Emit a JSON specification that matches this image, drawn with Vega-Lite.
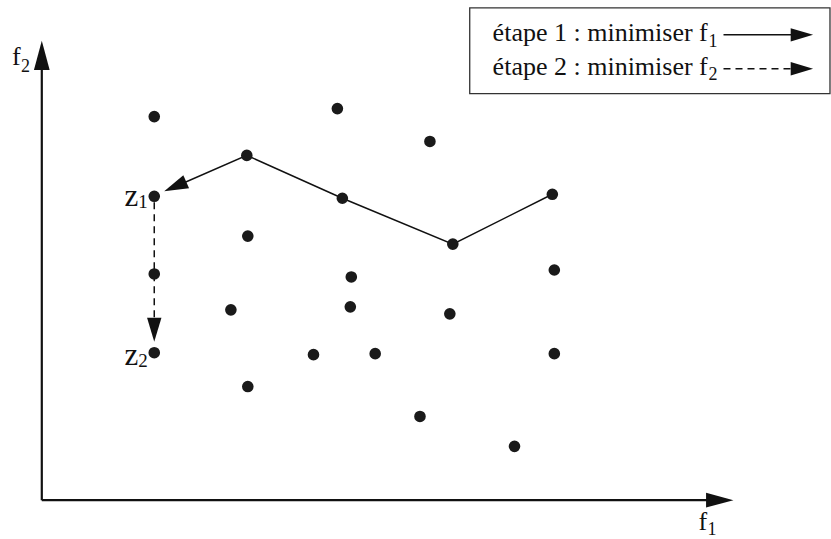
{
  "$schema": "https://vega.github.io/schema/vega-lite/v6.json",
  "width": 831,
  "height": 539,
  "autosize": {"type": "fit", "contains": "padding"},
  "padding": 0,
  "background": "white",
  "config": {"view": {"stroke": null}, "text": {"font": "Liberation Serif, DejaVu Serif, serif"}},
  "datasets": {
    "points": [
      {"f1": 113, "f2": 385}, {"f1": 297, "f2": 393}, {"f1": 390, "f2": 360},
      {"f1": 206, "f2": 346}, {"f1": 113, "f2": 305}, {"f1": 302, "f2": 303},
      {"f1": 513, "f2": 307}, {"f1": 413, "f2": 257}, {"f1": 207, "f2": 265},
      {"f1": 113, "f2": 227}, {"f1": 311, "f2": 224}, {"f1": 515, "f2": 231},
      {"f1": 190, "f2": 191}, {"f1": 310, "f2": 194}, {"f1": 410, "f2": 187},
      {"f1": 113, "f2": 148}, {"f1": 273, "f2": 146}, {"f1": 335, "f2": 147},
      {"f1": 515, "f2": 147}, {"f1": 207, "f2": 114}, {"f1": 380, "f2": 84},
      {"f1": 475, "f2": 54}
    ],
    "path": [
      {"step": 1, "f1": 513, "f2": 307},
      {"step": 2, "f1": 413, "f2": 257},
      {"step": 3, "f1": 302, "f2": 303},
      {"step": 4, "f1": 206, "f2": 346},
      {"step": 5, "f1": 128, "f2": 312}
    ],
    "segments": [
      {"kind": "axis", "f1": 0, "f2": 0, "f1b": 0, "f2b": 446},
      {"kind": "axis", "f1": 0, "f2": 0, "f1b": 682, "f2b": 0},
      {"kind": "dash", "f1": 113, "f2": 299, "f1b": 113, "f2b": 172},
      {"kind": "legend_solid", "f1": 685, "f2": 467, "f1b": 765, "f2b": 467},
      {"kind": "legend_dash", "f1": 685, "f2": 433, "f1b": 765, "f2b": 433}
    ],
    "arrows": [
      {"dir": "up", "f1": 0, "f2": 461},
      {"dir": "right", "f1": 695, "f2": 0},
      {"dir": "path", "f1": 123, "f2": 310},
      {"dir": "down", "f1": 113, "f2": 159},
      {"dir": "legend", "f1": 775, "f2": 467},
      {"dir": "legend", "f1": 775, "f2": 433}
    ],
    "box": [{"f1": 430, "f2": 494, "f1b": 792, "f2b": 408}],
    "labels": [
      {"role": "legend", "text": "étape 1 : minimiser f", "f1": 453, "f2": 461},
      {"role": "legend", "text": "étape 2 : minimiser f", "f1": 453, "f2": 427},
      {"role": "legend_sub", "text": "1", "f1": 670, "f2": 455},
      {"role": "legend_sub", "text": "2", "f1": 670, "f2": 422},
      {"role": "axis", "text": "f", "f1": -30, "f2": 437},
      {"role": "axis_sub", "text": "2", "f1": -21, "f2": 430},
      {"role": "axis", "text": "f", "f1": 660, "f2": -30},
      {"role": "axis_sub", "text": "1", "f1": 669, "f2": -35},
      {"role": "z", "text": "z", "f1": 83, "f2": 295},
      {"role": "z_sub", "text": "1", "f1": 97, "f2": 293},
      {"role": "z", "text": "z", "f1": 83, "f2": 136},
      {"role": "z_sub", "text": "2", "f1": 97, "f2": 134}
    ]
  },
  "layer": [
    {
      "data": {"name": "box"},
      "mark": {"type": "rect", "fill": "white", "stroke": "#333333", "strokeWidth": 1.3},
      "encoding": {
        "x": {"field": "f1", "type": "quantitative", "scale": {"domain": [-42, 789], "nice": false, "zero": false}, "axis": null},
        "x2": {"field": "f1b"},
        "y": {"field": "f2", "type": "quantitative", "scale": {"domain": [-37, 502], "nice": false, "zero": false}, "axis": null},
        "y2": {"field": "f2b"}
      }
    },
    {
      "data": {"name": "segments"},
      "transform": [{"filter": "datum.kind === 'axis'"}],
      "mark": {"type": "rule", "color": "#111111", "strokeWidth": 2.2},
      "encoding": {
        "x": {"field": "f1", "type": "quantitative"},
        "x2": {"field": "f1b"},
        "y": {"field": "f2", "type": "quantitative"},
        "y2": {"field": "f2b"}
      }
    },
    {
      "data": {"name": "segments"},
      "transform": [{"filter": "datum.kind === 'legend_solid'"}],
      "mark": {"type": "rule", "color": "#111111", "strokeWidth": 1.5},
      "encoding": {
        "x": {"field": "f1", "type": "quantitative"},
        "x2": {"field": "f1b"},
        "y": {"field": "f2", "type": "quantitative"},
        "y2": {"field": "f2b"}
      }
    },
    {
      "data": {"name": "segments"},
      "transform": [{"filter": "datum.kind === 'dash' || datum.kind === 'legend_dash'"}],
      "mark": {"type": "rule", "color": "#111111", "strokeWidth": 1.5, "strokeDash": [7, 5]},
      "encoding": {
        "x": {"field": "f1", "type": "quantitative"},
        "x2": {"field": "f1b"},
        "y": {"field": "f2", "type": "quantitative"},
        "y2": {"field": "f2b"}
      }
    },
    {
      "data": {"name": "path"},
      "mark": {"type": "line", "color": "#111111", "strokeWidth": 1.5},
      "encoding": {
        "x": {"field": "f1", "type": "quantitative"},
        "y": {"field": "f2", "type": "quantitative"},
        "order": {"field": "step"}
      }
    },
    {
      "data": {"name": "arrows"},
      "transform": [{"filter": "datum.dir === 'up'"}],
      "mark": {"type": "point", "shape": "M0,0L-1,-0.27L-1,0.27Z", "filled": true, "color": "#111111", "opacity": 1, "size": 3400, "angle": 270},
      "encoding": {"x": {"field": "f1", "type": "quantitative"}, "y": {"field": "f2", "type": "quantitative"}}
    },
    {
      "data": {"name": "arrows"},
      "transform": [{"filter": "datum.dir === 'right'"}],
      "mark": {"type": "point", "shape": "M0,0L-1,-0.27L-1,0.27Z", "filled": true, "color": "#111111", "opacity": 1, "size": 3000, "angle": 0},
      "encoding": {"x": {"field": "f1", "type": "quantitative"}, "y": {"field": "f2", "type": "quantitative"}}
    },
    {
      "data": {"name": "arrows"},
      "transform": [{"filter": "datum.dir === 'path'"}],
      "mark": {"type": "point", "shape": "M0,0L-1,-0.3L-1,0.3Z", "filled": true, "color": "#111111", "opacity": 1, "size": 2300, "angle": 156.5},
      "encoding": {"x": {"field": "f1", "type": "quantitative"}, "y": {"field": "f2", "type": "quantitative"}}
    },
    {
      "data": {"name": "arrows"},
      "transform": [{"filter": "datum.dir === 'down'"}],
      "mark": {"type": "point", "shape": "M0,0L-1,-0.3L-1,0.3Z", "filled": true, "color": "#111111", "opacity": 1, "size": 2300, "angle": 90},
      "encoding": {"x": {"field": "f1", "type": "quantitative"}, "y": {"field": "f2", "type": "quantitative"}}
    },
    {
      "data": {"name": "arrows"},
      "transform": [{"filter": "datum.dir === 'legend'"}],
      "mark": {"type": "point", "shape": "M0,0L-1,-0.3L-1,0.3Z", "filled": true, "color": "#111111", "opacity": 1, "size": 2000, "angle": 0},
      "encoding": {"x": {"field": "f1", "type": "quantitative"}, "y": {"field": "f2", "type": "quantitative"}}
    },
    {
      "data": {"name": "points"},
      "mark": {"type": "circle", "color": "#1a1a1a", "opacity": 1, "size": 135},
      "encoding": {"x": {"field": "f1", "type": "quantitative"}, "y": {"field": "f2", "type": "quantitative"}}
    },
    {
      "data": {"name": "labels"},
      "transform": [{"filter": "datum.role === 'legend'"}],
      "mark": {"type": "text", "font": "Liberation Serif, DejaVu Serif, serif", "fontSize": 26, "align": "left", "baseline": "alphabetic", "color": "#111111"},
      "encoding": {"x": {"field": "f1", "type": "quantitative"}, "y": {"field": "f2", "type": "quantitative"}, "text": {"field": "text"}}
    },
    {
      "data": {"name": "labels"},
      "transform": [{"filter": "datum.role === 'legend_sub' || datum.role === 'axis_sub'"}],
      "mark": {"type": "text", "font": "Liberation Serif, DejaVu Serif, serif", "fontSize": 18, "align": "left", "baseline": "alphabetic", "color": "#111111"},
      "encoding": {"x": {"field": "f1", "type": "quantitative"}, "y": {"field": "f2", "type": "quantitative"}, "text": {"field": "text"}}
    },
    {
      "data": {"name": "labels"},
      "transform": [{"filter": "datum.role === 'axis'"}],
      "mark": {"type": "text", "font": "Liberation Serif, DejaVu Serif, serif", "fontSize": 26, "align": "left", "baseline": "alphabetic", "color": "#111111"},
      "encoding": {"x": {"field": "f1", "type": "quantitative"}, "y": {"field": "f2", "type": "quantitative"}, "text": {"field": "text"}}
    },
    {
      "data": {"name": "labels"},
      "transform": [{"filter": "datum.role === 'z'"}],
      "mark": {"type": "text", "font": "Liberation Serif, DejaVu Serif, serif", "fontSize": 31, "align": "left", "baseline": "alphabetic", "color": "#111111"},
      "encoding": {"x": {"field": "f1", "type": "quantitative"}, "y": {"field": "f2", "type": "quantitative"}, "text": {"field": "text"}}
    },
    {
      "data": {"name": "labels"},
      "transform": [{"filter": "datum.role === 'z_sub'"}],
      "mark": {"type": "text", "font": "Liberation Serif, DejaVu Serif, serif", "fontSize": 19, "align": "left", "baseline": "alphabetic", "color": "#111111"},
      "encoding": {"x": {"field": "f1", "type": "quantitative"}, "y": {"field": "f2", "type": "quantitative"}, "text": {"field": "text"}}
    }
  ]
}
